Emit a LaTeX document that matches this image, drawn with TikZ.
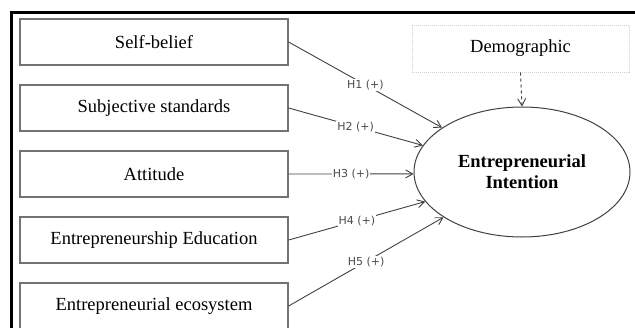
\documentclass[tikz,border=0pt]{standalone}
\usepackage{fontspec}
\setmainfont{Liberation Serif}
\newfontfamily\hypfont{DejaVu Sans}
\usetikzlibrary{positioning,shapes.geometric,arrows.meta}

\begin{document}
\begin{tikzpicture}[x=1pt,y=-1pt]
  % some colors
  \colorlet{frame}{black}
  \colorlet{boxline}{black!55}
  \colorlet{links}{black!75}
  \colorlet{hyptext}{black!70}
  % some styles
  \tikzset{
    factor/.style={
      draw=boxline,
      line width=1.2pt,
      minimum width=268pt,
      minimum height=46pt,
      inner sep=0pt,
      font=\fontsize{18.5}{22}\selectfont,
    },
    control/.style={
      draw=black!18,
      densely dotted,
      line width=1pt,
      minimum width=217pt,
      minimum height=47pt,
      inner sep=0pt,
      font=\fontsize{18.5}{22}\selectfont,
    },
    target/.style={
      ellipse,
      draw=links,
      line width=1pt,
      minimum width=216pt,
      minimum height=130pt,
      align=center,
      font=\fontsize{18.5}{21}\selectfont\bfseries,
    },
    link/.style={-{Straight Barb[length=7pt,width=8pt]},links,line width=.9pt},
    hyp/.style={fill=white,inner sep=1pt,text=hyptext,font=\hypfont\fontsize{11}{13}\selectfont},
  }
  \useasboundingbox (0,0) rectangle (635,327);
  % frame
  \draw[frame,line width=3pt] (11,330) -- (11,12.5) -- (640,12.5);
  % target and control
  \node[target] (ei) at (522,172) {Entrepreneurial\\Intention};
  \node[control] (demo) at (520.5,48.5) {Demographic};
  \draw[link,dashed] (demo.south) -- (ei.north);
  % factors with hypotheses
  \foreach \txt/\ang [count=\i] in {Self-belief/151,Subjective standards/165,
    Attitude/181,Entrepreneurship Education/197,Entrepreneurial ecosystem/210} {
    \node[factor] (f-\i) at (154,{42+66*(\i-1)}) {\txt};
    \draw[link] (f-\i.east) -- node[hyp] {H\i{} (+)} (ei.\ang);
  }
\end{tikzpicture}
\end{document}
